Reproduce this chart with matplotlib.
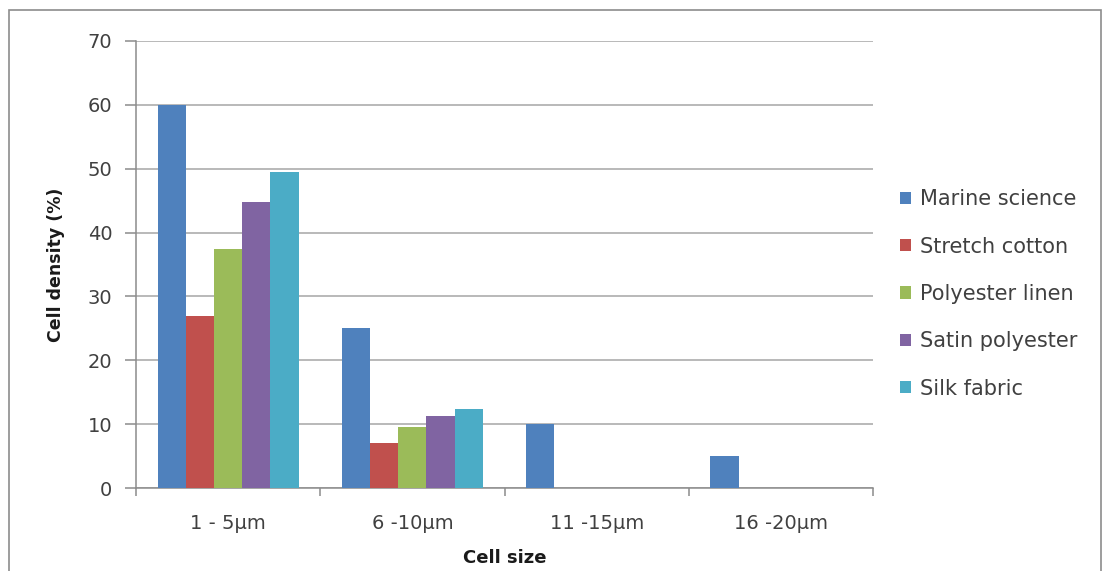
import matplotlib
matplotlib.use("Agg")
import matplotlib.pyplot as plt
import numpy as np
from matplotlib.patches import Rectangle

categories = ["1 - 5µm", "6 -10µm", "11 -15µm", "16 -20µm"]
series_names = ["Marine science", "Stretch cotton", "Polyester linen", "Satin polyester", "Silk fabric"]
marine = [60, 25, 10, 5]
stretch = [27, 7, 0, 0]
polyester = [37.5, 9.5, 0, 0]
satin = [44.8, 11.2, 0, 0]
silk = [49.5, 12.4, 0, 0]
colors = ["#4F81BD", "#C0504D", "#9BBB59", "#8064A2", "#4BACC6"]
yticks = [0, 10, 20, 30, 40, 50, 60, 70]

plt.rcParams['font.family'] = ['DejaVu Sans']
txt = "#404040"

W, H = 1105, 571
L, R, T, B = 136, 873, 41, 488
fig = plt.figure(figsize=(W / 100, H / 100), dpi=100)
fig.patches.append(Rectangle((9 / W, -0.1), (1101 - 9) / W, 1.1 - 10 / H,
                             transform=fig.transFigure, fill=False,
                             edgecolor="#8C8C8C", linewidth=1.2))
ax = fig.add_axes([L / W, 1 - B / H, (R - L) / W, (B - T) / H])

data = [marine, stretch, polyester, satin, silk]
x = np.arange(len(categories))
bw = 0.153
for i, (vals, name, c) in enumerate(zip(data, series_names, colors)):
    ax.bar(x + (i - 2) * bw, vals, bw, color=c, label=name, zorder=3)

ax.set_xlim(-0.5, len(categories) - 0.5)
ax.set_ylim(0, 70)
ax.set_yticks(yticks)
ax.set_yticklabels([str(v) for v in yticks], fontsize=14, color=txt)
ax.yaxis.grid(True, color="#A6A6A6", linewidth=1.1, zorder=0)
ax.set_axisbelow(True)
ax.set_xticks(x)
ax.set_xticklabels(categories, fontsize=14, color=txt)
ax.tick_params(axis='x', length=0, pad=19)
ax.set_xticks(np.arange(-0.5, len(categories) + 0.5, 1), minor=True)
ax.tick_params(axis='x', which='minor', length=6, color="#8C8C8C", width=1.1)
ax.tick_params(axis='y', length=8, color="#8C8C8C", width=1.1, pad=9)
for s in ["top", "right"]:
    ax.spines[s].set_visible(False)
for s in ["left", "bottom"]:
    ax.spines[s].set_color("#8C8C8C")
    ax.spines[s].set_linewidth(1.1)

ax.set_ylabel("Cell density (%)", fontsize=12.5, fontweight="bold", labelpad=16, color="#1A1A1A")
ax.set_xlabel("Cell size", fontsize=13, fontweight="bold", labelpad=11, color="#1A1A1A")

leg = ax.legend(loc="center left", bbox_to_anchor=((900 - L) / (R - L), (B - 294) / (B - T)),
                frameon=False, fontsize=15, handlelength=0.53, handleheight=0.53,
                handletextpad=0.45, labelspacing=1.31, borderaxespad=0, borderpad=0)
for t in leg.get_texts():
    t.set_color(txt)

fig.savefig("out.png", dpi=100)
